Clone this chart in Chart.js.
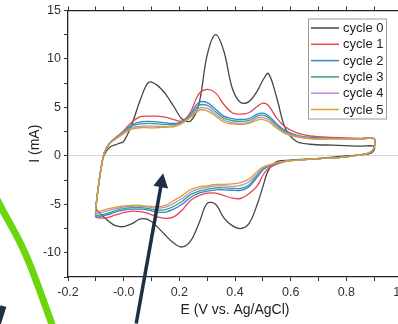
<!DOCTYPE html>
<html>
<head>
<meta charset="utf-8">
<script src="https://cdn.jsdelivr.net/npm/chart.js@4.4.1/dist/chart.umd.min.js"></script>
<style>
html, body { margin: 0; padding: 0; background: #fff; overflow: hidden; }
#wrap { position: relative; width: 420px; height: 324px; }
</style>
</head>
<body>
<div id="wrap"><canvas id="cv"></canvas></div>
<script>
const cycleLabels = ['cycle 0', 'cycle 1', 'cycle 2', 'cycle 3', 'cycle 4', 'cycle 5'];
const cycleColors = ['#454545', '#e8444b', '#3b7fd9', '#33a86b', '#b68ae4', '#d9a02c'];

// potential (V) for anodic and cathodic sweeps
const upE = [-0.1, -0.09, -0.08, -0.07, -0.05, -0.02, 0.0, 0.03, 0.06, 0.09, 0.12, 0.15, 0.18, 0.21, 0.24, 0.27,
    0.3, 0.33, 0.36, 0.39, 0.42, 0.45, 0.48, 0.5, 0.52, 0.55, 0.58, 0.62, 0.67, 0.75, 0.85, 0.9];
const downE = [0.9, 0.89, 0.87, 0.8, 0.7, 0.6, 0.55, 0.52, 0.5, 0.48, 0.45, 0.42, 0.39, 0.36, 0.33, 0.3,
    0.27, 0.24, 0.21, 0.18, 0.15, 0.12, 0.09, 0.06, 0.03, 0.0, -0.03, -0.06, -0.09, -0.1];

// current (mA)
const up0 = [-5.3, -2.9, -1.0, 0.1, 0.9, 1.25, 1.5, 3.3, 5.8, 7.6, 7.3, 6.4, 5.1, 3.8, 3.6, 5.3,
    10.4, 12.5, 10.8, 7.0, 5.5, 5.6, 6.7, 7.8, 8.5, 6.0, 2.9, 1.5, 1.2, 1.1, 1.0, 1.0];
const up1 = [-5.3, -3.0, -1.1, 0.3, 1.35, 2.1, 2.6, 3.5, 4.05, 4.1, 4.1, 4.0, 3.75, 3.6, 4.5, 6.4,
    6.85, 6.5, 5.3, 4.45, 4.3, 4.45, 5.1, 5.45, 5.2, 3.9, 3.0, 2.4, 2.05, 1.9, 1.8, 1.8];
const up2 = [-5.3, -3.0, -1.1, 0.3, 1.3, 2.0, 2.5, 3.2, 3.5, 3.55, 3.5, 3.4, 3.35, 3.5, 4.3, 5.5,
    5.5, 4.8, 4.1, 3.85, 3.75, 3.85, 4.3, 4.4, 4.15, 3.3, 2.6, 2.15, 1.9, 1.8, 1.75, 1.75];
const up3 = [-5.3, -3.0, -1.1, 0.3, 1.3, 2.0, 2.45, 3.1, 3.3, 3.35, 3.3, 3.25, 3.25, 3.45, 4.15, 5.2,
    5.2, 4.55, 3.9, 3.65, 3.55, 3.65, 4.1, 4.2, 3.95, 3.15, 2.5, 2.1, 1.85, 1.8, 1.75, 1.75];
const up4 = [-5.3, -3.0, -1.1, 0.3, 1.3, 1.95, 2.4, 2.9, 3.05, 3.1, 3.05, 3.05, 3.1, 3.4, 4.05, 4.9,
    4.9, 4.3, 3.7, 3.45, 3.35, 3.45, 3.9, 3.95, 3.75, 3.0, 2.4, 2.05, 1.8, 1.75, 1.75, 1.75];
const up5 = [-5.3, -3.0, -1.1, 0.3, 1.25, 1.9, 2.3, 2.75, 2.9, 2.9, 2.9, 2.95, 3.0, 3.35, 3.95, 4.7,
    4.65, 4.1, 3.5, 3.3, 3.25, 3.35, 3.7, 3.75, 3.55, 2.85, 2.3, 1.95, 1.75, 1.75, 1.75, 1.75];

const down0 = [0.6, 0.3, 0.15, 0.0, -0.25, -0.45, -0.6, -1.5, -3.2, -5.0, -7.0, -7.5, -7.2, -6.4, -5.0,
    -4.9, -7.0, -8.8, -9.4, -9.0, -8.2, -7.3, -6.6, -6.5, -7.0, -7.3, -7.2, -6.6, -5.8, -5.45];
const down1 = [0.85, 0.45, 0.2, -0.1, -0.3, -0.5, -0.85, -1.3, -2.0, -3.1, -3.9, -4.4, -4.35, -4.1, -3.85,
    -3.85, -4.1, -4.6, -5.6, -6.3, -6.45, -6.3, -5.95, -5.75, -5.7, -5.85, -6.1, -6.4, -6.4, -6.3];
const down2 = [0.85, 0.45, 0.2, -0.1, -0.3, -0.5, -0.75, -1.1, -1.45, -2.2, -3.2, -3.55, -3.55, -3.5, -3.5,
    -3.65, -3.85, -4.3, -5.0, -5.5, -5.8, -5.8, -5.6, -5.5, -5.5, -5.6, -5.8, -6.1, -6.3, -6.3];
const down3 = [0.85, 0.45, 0.2, -0.1, -0.3, -0.5, -0.74, -1.05, -1.35, -2.0, -3.0, -3.35, -3.35, -3.3, -3.3,
    -3.45, -3.65, -4.0, -4.7, -5.2, -5.55, -5.6, -5.45, -5.35, -5.35, -5.45, -5.65, -5.95, -6.15, -6.15];
const down4 = [0.85, 0.45, 0.2, -0.1, -0.3, -0.5, -0.72, -1.0, -1.25, -1.85, -2.7, -3.05, -3.15, -3.1, -3.1,
    -3.25, -3.4, -3.75, -4.4, -4.9, -5.3, -5.4, -5.3, -5.2, -5.2, -5.3, -5.45, -5.7, -5.95, -6.0];
const down5 = [0.85, 0.45, 0.2, -0.1, -0.3, -0.5, -0.7, -0.95, -1.15, -1.6, -2.4, -2.75, -2.9, -2.95, -2.95,
    -3.1, -3.2, -3.5, -4.1, -4.6, -5.1, -5.25, -5.2, -5.1, -5.1, -5.15, -5.3, -5.5, -5.75, -5.8];

// the arrow and green stroke that sit over the figure
const arrowE = [0.045, 0.142];
const arrowI = [-17.3, -1.8];
const arcE = [-0.47, -0.44, -0.374, -0.328, -0.29, -0.25];
const arcI = [-3.6, -5.4, -8.7, -11.8, -14.8, -18.0];
const stubE = [-0.455, -0.432];
const stubI = [-17.6, -15.5];

const upI = [up0, up1, up2, up3, up4, up5];
const downI = [down0, down1, down2, down3, down4, down5];

const FONT = 'Liberation Sans, Arial, sans-serif';

function loop(k) {
    const pts = upE.map((e, i) => ({ x: e, y: upI[k][i] }));
    downE.forEach((e, i) => pts.push({ x: e, y: downI[k][i] }));
    pts.push({ x: upE[0], y: upI[k][0] });
    return pts;
}

const legendBox = {
    id: 'legendBox',
    afterDraw(chart) {
        const { ctx, chartArea } = chart;
        const left = chartArea.right - 94, top = chartArea.top + 8;
        ctx.save();
        ctx.fillStyle = '#fff';
        ctx.fillRect(left, top, 78, 100);
        ctx.strokeStyle = '#9a9a9a';
        ctx.lineWidth = 1;
        ctx.strokeRect(left + 0.5, top + 0.5, 78, 100);
        ctx.font = '13px ' + FONT;
        ctx.textBaseline = 'middle';
        chart.data.datasets.forEach((ds, i) => {
            const y = top + 9.5 + i * 16.3;
            ctx.strokeStyle = ds.borderColor;
            ctx.lineWidth = 1.5;
            ctx.beginPath();
            ctx.moveTo(left + 3, y);
            ctx.lineTo(left + 31, y);
            ctx.stroke();
            ctx.fillStyle = '#222';
            ctx.fillText(ds.label, left + 35, y + 0.5);
        });
        ctx.restore();
    }
};

const overlay = {
    id: 'overlay',
    afterDraw(chart) {
        const { ctx } = chart;
        const sx = chart.scales.x, sy = chart.scales.y;
        const P = (e, i) => [sx.getPixelForValue(e), sy.getPixelForValue(i)];
        ctx.save();
        // green stroke
        const arc = arcE.map((e, i) => P(e, arcI[i]));
        ctx.strokeStyle = '#6bd60c';
        ctx.lineWidth = 7;
        ctx.lineCap = 'butt';
        ctx.lineJoin = 'round';
        ctx.beginPath();
        ctx.moveTo(arc[0][0], arc[0][1]);
        for (let i = 1; i < arc.length - 1; i++) {
            const mx = (arc[i][0] + arc[i + 1][0]) / 2, my = (arc[i][1] + arc[i + 1][1]) / 2;
            ctx.quadraticCurveTo(arc[i][0], arc[i][1], mx, my);
        }
        ctx.lineTo(arc[arc.length - 1][0], arc[arc.length - 1][1]);
        ctx.stroke();
        // dark stub bottom-left
        const s0 = P(stubE[0], stubI[0]), s1 = P(stubE[1], stubI[1]);
        ctx.strokeStyle = '#1d3043';
        ctx.lineWidth = 6;
        ctx.beginPath();
        ctx.moveTo(s0[0], s0[1]);
        ctx.lineTo(s1[0], s1[1]);
        ctx.stroke();
        // arrow
        const a0 = P(arrowE[0], arrowI[0]), a1 = P(arrowE[1], arrowI[1]);
        const dx = a1[0] - a0[0], dy = a1[1] - a0[1];
        const len = Math.hypot(dx, dy);
        const ux = dx / len, uy = dy / len, nx = -uy, ny = ux;
        const bx = a1[0] - ux * 14, by = a1[1] - uy * 14;
        ctx.lineWidth = 3.5;
        ctx.beginPath();
        ctx.moveTo(a0[0], a0[1]);
        ctx.lineTo(bx + ux * 2, by + uy * 2);
        ctx.stroke();
        ctx.fillStyle = '#1d3043';
        ctx.beginPath();
        ctx.moveTo(a1[0], a1[1]);
        ctx.lineTo(bx + nx * 7.5, by + ny * 7.5);
        ctx.lineTo(bx - nx * 7.5, by - ny * 7.5);
        ctx.closePath();
        ctx.fill();
        ctx.restore();
    }
};

const ctx = document.getElementById('cv');
new Chart(ctx, {
    type: 'scatter',
    data: {
        datasets: cycleLabels.map((label, k) => ({
            label: label,
            data: loop(k),
            showLine: true,
            borderColor: cycleColors[k],
            backgroundColor: cycleColors[k],
            borderWidth: 1.3,
            pointRadius: 0,
            tension: 0.35,
            order: 5 - k
        }))
    },
    options: {
        responsive: true,
        maintainAspectRatio: false,
        animation: false,
        layout: { padding: { left: 0, right: 18, top: 0, bottom: 0 } },
        plugins: {
            legend: { display: false },
            tooltip: { enabled: false }
        },
        scales: {
            x: {
                type: 'linear',
                position: 'bottom',
                min: -0.2,
                max: 1.0,
                afterFit(s) { s.height = 47; },
                border: { display: true, color: '#222', width: 1.3 },
                grid: { drawOnChartArea: false, drawTicks: true, tickLength: 4, tickColor: '#333' },
                ticks: {
                    stepSize: 0.1,
                    autoSkip: false,
                    maxRotation: 0,
                    padding: 4,
                    color: '#333',
                    font: { family: FONT, size: 12.5 },
                    callback: v => Math.round(v * 10) % 2 === 0 ? v.toFixed(1) : ''
                },
                title: {
                    display: true,
                    text: 'E (V vs. Ag/AgCl)',
                    color: '#222',
                    font: { family: FONT, size: 14 },
                    padding: { top: 0, bottom: 5 }
                }
            },
            x2: {
                type: 'linear',
                position: 'top',
                min: -0.2,
                max: 1.0,
                afterFit(s) { s.height = 9; },
                border: { display: true, color: '#222', width: 1.3 },
                grid: { drawOnChartArea: false, drawTicks: true, tickLength: 4, tickColor: '#333' },
                ticks: { display: false, stepSize: 0.1, autoSkip: false }
            },
            y: {
                type: 'linear',
                min: -12.5,
                max: 15,
                afterFit(s) { s.width = 68; },
                border: { display: true, color: '#222', width: 1.3 },
                grid: {
                    drawOnChartArea: true,
                    drawTicks: true,
                    tickLength: 4,
                    tickColor: '#333',
                    color: c => c.tick && c.tick.value === 0 ? '#d6d6d6' : 'rgba(0,0,0,0)'
                },
                ticks: {
                    stepSize: 2.5,
                    autoSkip: false,
                    padding: 3,
                    color: '#333',
                    font: { family: FONT, size: 12.5 },
                    callback: v => v % 5 === 0 ? String(v) : ''
                },
                title: {
                    display: true,
                    text: 'I (mA)',
                    color: '#222',
                    font: { family: FONT, size: 14 },
                    padding: { top: 27, bottom: 0 }
                }
            }
        }
    },
    plugins: [legendBox, overlay]
});
</script>
</body>
</html>
